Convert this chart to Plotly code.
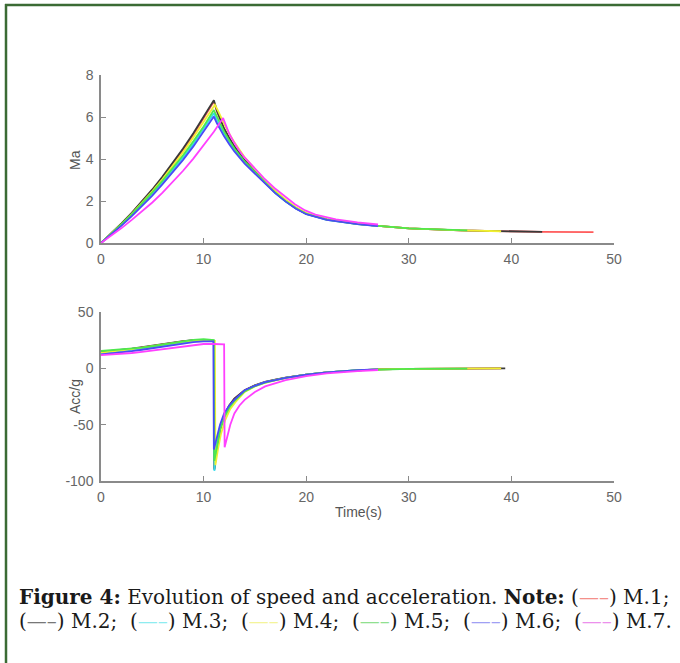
import plotly.graph_objects as go

# ---------------- data ----------------
series_names = ["M.1", "M.2", "M.3", "M.4", "M.5", "M.6", "M.7"]
series_colors = ["#ff5a5a", "#3a3a3a", "#30dcec", "#f0f030", "#4ee84e", "#4a4af6", "#ff40ff"]

# speed (Ma)
t_ma_m1 = [0, 1, 2, 3, 4, 5, 6, 7, 8, 9, 10, 11, 11.3, 11.6, 12, 12.5, 13, 14, 15, 16, 17, 18, 19, 20, 22, 25, 27, 30, 35, 40, 43, 48]
ma_m1 = [0, 0.44, 0.92, 1.42, 1.96, 2.52, 3.12, 3.76, 4.44, 5.16, 5.93, 6.74, 6.27, 5.88, 5.43, 4.98, 4.58, 3.93, 3.40, 2.88, 2.40, 2.00, 1.66, 1.40, 1.12, 0.91, 0.82, 0.70, 0.60, 0.55, 0.53, 0.52]

t_ma_m2 = [0, 1, 2, 3, 4, 5, 6, 7, 8, 9, 10, 11, 11.3, 11.6, 12, 12.5, 13, 14, 15, 16, 17, 18, 19, 20, 22, 25, 27, 30, 35, 40, 43]
ma_m2 = [0, 0.45, 0.93, 1.44, 1.98, 2.55, 3.16, 3.81, 4.50, 5.23, 6.00, 6.80, 6.30, 5.90, 5.45, 5.00, 4.60, 3.94, 3.40, 2.88, 2.40, 2.00, 1.66, 1.40, 1.12, 0.91, 0.82, 0.70, 0.60, 0.55, 0.53]

t_ma_m3 = [0, 1, 2, 3, 4, 5, 6, 7, 8, 9, 10, 11, 11.3, 11.6, 12, 12.5, 13, 14, 15, 16, 17, 18, 19, 20, 22, 25, 27]
ma_m3 = [0, 0.42, 0.87, 1.34, 1.83, 2.35, 2.90, 3.48, 4.08, 4.72, 5.42, 6.18, 5.85, 5.55, 5.20, 4.80, 4.45, 3.85, 3.35, 2.85, 2.38, 1.98, 1.64, 1.38, 1.10, 0.90, 0.81]

t_ma_m4 = [0, 1, 2, 3, 4, 5, 6, 7, 8, 9, 10, 11.1, 11.4, 11.7, 12.1, 12.6, 13.1, 14, 15, 16, 17, 18, 19, 20, 22, 25, 27, 30, 35, 39]
ma_m4 = [0, 0.43, 0.90, 1.39, 1.91, 2.46, 3.04, 3.66, 4.32, 5.02, 5.76, 6.58, 6.30, 5.98, 5.58, 5.12, 4.72, 4.08, 3.52, 2.98, 2.48, 2.06, 1.70, 1.43, 1.13, 0.92, 0.82, 0.70, 0.60, 0.56]

t_ma_m5 = [0, 1, 2, 3, 4, 5, 6, 7, 8, 9, 10, 11, 11.3, 11.6, 12, 12.5, 13, 14, 15, 16, 17, 18, 19, 20, 22, 25, 27, 30, 35.7]
ma_m5 = [0, 0.44, 0.90, 1.38, 1.88, 2.41, 2.97, 3.56, 4.18, 4.84, 5.55, 6.33, 6.00, 5.70, 5.30, 4.88, 4.50, 3.88, 3.37, 2.86, 2.39, 1.99, 1.65, 1.39, 1.11, 0.90, 0.81, 0.70, 0.60]

t_ma_m6 = [0, 1, 2, 3, 4, 5, 6, 7, 8, 9, 10, 11, 11.3, 11.6, 12, 12.5, 13, 14, 15, 16, 17, 18, 19, 20, 22, 25, 27]
ma_m6 = [0, 0.40, 0.83, 1.28, 1.76, 2.26, 2.80, 3.37, 3.96, 4.60, 5.28, 6.02, 5.70, 5.42, 5.08, 4.70, 4.36, 3.78, 3.30, 2.82, 2.36, 1.97, 1.63, 1.37, 1.10, 0.90, 0.81]

t_ma_m7 = [0, 1, 2, 3, 4, 5, 6, 7, 8, 9, 10, 11, 11.9, 12.2, 12.5, 12.9, 13.4, 13.9, 14.9, 15.9, 16.9, 17.9, 18.9, 19.9, 20.9, 22.9, 25, 27]
ma_m7 = [0, 0.34, 0.71, 1.10, 1.50, 1.93, 2.40, 2.90, 3.44, 4.02, 4.64, 5.30, 5.95, 5.55, 5.20, 4.85, 4.45, 4.12, 3.60, 3.08, 2.62, 2.22, 1.85, 1.55, 1.35, 1.13, 0.98, 0.88]

# acceleration (g)
t_acc_m1 = [0, 1, 2, 3, 4, 5, 6, 7, 8, 9, 10, 11, 11, 11.05, 11.3, 11.6, 12, 12.5, 13, 14, 15, 16, 17, 18, 20, 22, 25, 27, 30, 35, 39]
acc_m1 = [14.2, 15.0, 16.0, 17.1, 18.4, 19.8, 21.3, 22.7, 23.9, 24.7, 25.0, 24.3, 24.3, -89, -70, -54, -42, -33, -27, -19.5, -15, -12, -10, -8.2, -5.5, -3.5, -1.8, -1.0, -0.5, -0.2, 0]

t_acc_m2 = [0, 1, 2, 3, 4, 5, 6, 7, 8, 9, 10, 11, 11, 11.05, 11.3, 11.6, 12, 12.5, 13, 14, 15, 16, 17, 18, 20, 22, 25, 27, 30, 35, 39.4]
acc_m2 = [14.5, 15.3, 16.3, 17.4, 18.7, 20.1, 21.6, 23.0, 24.2, 25.0, 25.2, 24.4, 24.4, -90, -70, -54, -42, -33, -27, -19.5, -15, -12, -10, -8.2, -5.5, -3.5, -1.8, -1.0, -0.5, -0.2, 0]

t_acc_m3 = [0, 1, 2, 3, 4, 5, 6, 7, 8, 9, 10, 11, 11, 11.05, 11.3, 11.6, 12, 12.5, 13, 14, 15, 16, 17, 18, 20, 22, 25, 27]
acc_m3 = [13.5, 14.3, 15.2, 16.4, 17.7, 19.1, 20.6, 22.0, 23.3, 24.3, 24.8, 24.3, 24.3, -91, -66, -52, -42, -34, -28.5, -20, -15.5, -12.3, -10.4, -8.5, -5.5, -3.5, -1.7, -1.0]

t_acc_m4 = [0, 1, 2, 3, 4, 5, 6, 7, 8, 9, 10, 11.1, 11.1, 11.15, 11.4, 11.7, 12.1, 12.6, 13.1, 14, 15, 16, 17, 18, 20, 22, 25, 27, 30, 35, 39]
acc_m4 = [14.0, 14.8, 15.8, 17.0, 18.3, 19.7, 21.1, 22.5, 23.7, 24.6, 24.9, 24.3, 24.3, -86, -72, -58, -46, -36, -30, -21, -16, -12.8, -10.6, -8.6, -5.6, -3.6, -1.8, -1.0, -0.5, -0.2, 0]

t_acc_m5 = [0, 1, 2, 3, 4, 5, 6, 7, 8, 9, 10, 11, 11, 11.05, 11.3, 11.6, 12, 12.5, 13, 14, 15, 16, 17, 18, 20, 22, 25, 27, 30, 35.7]
acc_m5 = [15.4, 16.0, 16.7, 17.5, 18.4, 19.6, 21.0, 22.5, 24.0, 25.2, 25.8, 25.0, 25.0, -82, -68, -55, -44, -35, -29, -20.5, -15.8, -12.6, -10.5, -8.5, -5.5, -3.5, -1.7, -1.0, -0.5, -0.2]

t_acc_m6 = [0, 1, 2, 3, 4, 5, 6, 7, 8, 9, 10, 10.95, 10.95, 11.0, 11.3, 11.6, 12, 12.5, 13, 14, 15, 16, 17, 18, 20, 22, 25, 27]
acc_m6 = [12.4, 13.2, 14.1, 15.2, 16.5, 17.9, 19.4, 20.9, 22.2, 23.3, 24.0, 24.0, 24.0, -72, -60, -50, -40, -33, -28, -19.5, -15.5, -12.3, -10.5, -8.5, -5.5, -3.5, -1.7, -1.0]

t_acc_m7 = [0, 1, 2, 3, 4, 5, 6, 7, 8, 9, 10, 11, 12, 12, 12.05, 12.3, 12.6, 13, 13.5, 14, 15, 16, 17, 18, 20, 22, 25, 27]
acc_m7 = [11.8, 12.2, 12.8, 13.6, 14.6, 15.8, 17.1, 18.5, 19.8, 20.9, 21.6, 21.6, 21.2, 21.2, -70, -60, -50, -40, -33, -28, -21, -16, -13, -10.5, -7, -4.5, -2.5, -1.5]

x_ticks = [0, 10, 20, 30, 40, 50]
ma_ticks = [0, 2, 4, 6, 8]
acc_ticks = [-100, -50, 0, 50]
acc_tick_text = ["-100", "-50", "0", "50"]

caption_colors = ["#f4908a", "#777777", "#8eecf0", "#f4f49a", "#90e090", "#a0a0f4", "#ec90ec"]

ma_t = [t_ma_m1, t_ma_m2, t_ma_m3, t_ma_m4, t_ma_m5, t_ma_m6, t_ma_m7]
ma_v = [ma_m1, ma_m2, ma_m3, ma_m4, ma_m5, ma_m6, ma_m7]
acc_t = [t_acc_m1, t_acc_m2, t_acc_m3, t_acc_m4, t_acc_m5, t_acc_m6, t_acc_m7]
acc_v = [acc_m1, acc_m2, acc_m3, acc_m4, acc_m5, acc_m6, acc_m7]

# ---------------- figure ----------------
W, H = 680, 663


def px(x):
    return x / W


def py(y):
    return 1 - y / H


fig = go.Figure()
for i, name in enumerate(series_names):
    fig.add_trace(go.Scatter(x=ma_t[i], y=ma_v[i], mode="lines", name=name,
                             line=dict(color=series_colors[i], width=1.8),
                             xaxis="x", yaxis="y", showlegend=False))
for i, name in enumerate(series_names):
    fig.add_trace(go.Scatter(x=acc_t[i], y=acc_v[i], mode="lines", name=name,
                             line=dict(color=series_colors[i], width=1.8),
                             xaxis="x2", yaxis="y2", showlegend=False))

axis_common = dict(showline=True, linecolor="#8a8a8a", linewidth=1.5, ticks="inside",
                   ticklen=5, tickwidth=1.2, tickcolor="#8a8a8a", showgrid=False, zeroline=False,
                   tickfont=dict(family="Liberation Sans, Arial", size=14, color="#666666"),
                   mirror=False, automargin=False)

dom_x = [px(101), px(614)]
fig.update_layout(
    width=W, height=H, margin=dict(l=0, r=0, t=0, b=0, autoexpand=False),
    paper_bgcolor="white", plot_bgcolor="white",
    xaxis=dict(domain=dom_x, range=[0, 50], tickvals=x_ticks, anchor="y", ticklabelstandoff=2, **axis_common),
    yaxis=dict(domain=[py(243), py(75)], range=[0, 8], tickvals=ma_ticks, anchor="x", ticklabelstandoff=3, **axis_common),
    xaxis2=dict(domain=dom_x, range=[0, 50], tickvals=x_ticks, anchor="y2", ticklabelstandoff=2, **axis_common),
    yaxis2=dict(domain=[py(481), py(312)], range=[-100, 50], tickvals=acc_ticks, ticktext=acc_tick_text,
                anchor="x2", ticklabelstandoff=3, **axis_common),
)

label_font = dict(family="Liberation Sans, Arial", size=14, color="#555555")
fig.add_annotation(text="Ma", x=px(75), y=py(160), xref="paper", yref="paper", textangle=-90,
                   showarrow=False, font=label_font, xanchor="center", yanchor="middle")
fig.add_annotation(text="Acc/g", x=px(75), y=py(397), xref="paper", yref="paper", textangle=-90,
                   showarrow=False, font=label_font, xanchor="center", yanchor="middle")
fig.add_annotation(text="Time(s)", x=px(358), y=py(512), xref="paper", yref="paper",
                   showarrow=False, font=label_font, xanchor="center", yanchor="middle")


def dash(c):
    return '(<span style="color:%s">—–</span>)' % c


line1 = ("<b>Figure 4:</b> Evolution of speed and acceleration.&nbsp;<b>Note:</b> "
         + dash(caption_colors[0]) + " " + series_names[0] + ";")
line2 = ";&nbsp; ".join(dash(caption_colors[i]) + " " + series_names[i] for i in range(1, 7)) + "."

cap_font = dict(family="DejaVu Serif", size=20, color="#1a1a1a")
fig.add_annotation(text=line1, x=px(17), y=py(597), xref="paper", yref="paper", showarrow=False,
                   font=cap_font, xanchor="left", yanchor="middle", align="left")
fig.add_annotation(text=line2, x=px(17), y=py(621), xref="paper", yref="paper", showarrow=False,
                   font=cap_font, xanchor="left", yanchor="middle", align="left")

# dark green frame (only top and left edges are visible in the crop)
frame = "#3b6b34"
fig.add_shape(type="line", xref="paper", yref="paper", x0=px(6), x1=px(6), y0=py(4), y1=py(H + 5),
              line=dict(color=frame, width=2.5))
fig.add_shape(type="line", xref="paper", yref="paper", x0=px(5), x1=px(W + 5), y0=py(5), y1=py(5),
              line=dict(color=frame, width=2.5))

fig.write_html("out.html", config={"displayModeBar": False},
               post_script="document.body.style.margin='0';document.body.style.overflow='hidden';")
